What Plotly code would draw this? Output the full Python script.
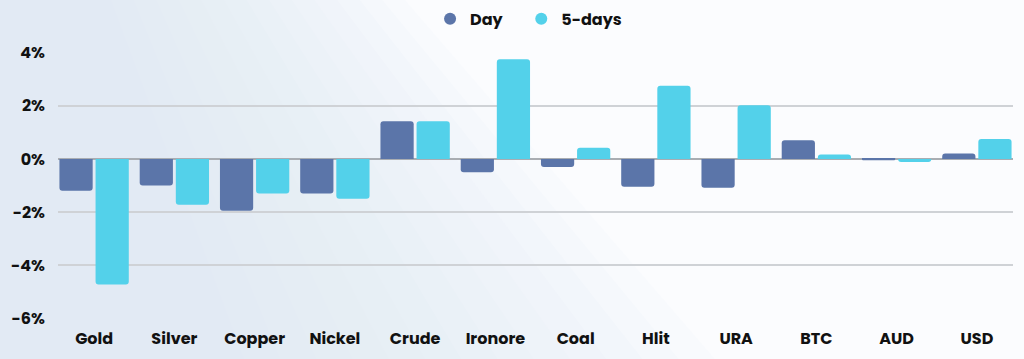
import plotly.graph_objects as go

categories = ["Gold", "Silver", "Copper", "Nickel", "Crude", "Ironore", "Coal", "Hlit", "URA", "BTC", "AUD", "USD"]
day_values = [-1.2, -1.0, -1.95, -1.3, 1.42, -0.5, -0.3, -1.05, -1.08, 0.7, -0.05, 0.2]
five_day_values = [-4.72, -1.72, -1.3, -1.5, 1.42, 3.75, 0.42, 2.75, 2.02, 0.17, -0.12, 0.75]
tick_vals = [-6, -4, -2, 0, 2, 4]
tick_text = ["-6%", "-4%", "-2%", "0%", "2%", "4%"]

DAY_COLOR = "#5b75a9"
FIVE_COLOR = "#53d1ea"
FONT = "Poppins, Inter, 'DejaVu Sans', sans-serif"

fig = go.Figure()
fig.add_trace(go.Bar(x=categories, y=day_values, name="Day", marker_color=DAY_COLOR,
                     showlegend=False, marker_line_width=0))
fig.add_trace(go.Bar(x=categories, y=five_day_values, name="5-days", marker_color=FIVE_COLOR,
                     showlegend=False, marker_line_width=0))
# legend entries with circular markers
fig.add_trace(go.Scatter(x=[None], y=[None], mode="markers", name="Day    ",
                         marker=dict(color=DAY_COLOR, size=16, symbol="circle")))
fig.add_trace(go.Scatter(x=[None], y=[None], mode="markers", name="5-days",
                         marker=dict(color=FIVE_COLOR, size=16, symbol="circle")))

# subtle background gradient approximation (diagonal, light blue-grey at lower left)
shapes = []
n = 14
for i in range(n):
    xb = 0.2 + 0.5 * i / (n - 1)     # bottom x of band edge
    xt = 0.05 + 0.3 * i / (n - 1)    # top x of band edge
    shapes.append(dict(type="path", xref="paper", yref="paper",
                       path=f"M -0.1 -0.2 L {xb} -0.2 L {xt} 1.25 L -0.1 1.25 Z",
                       fillcolor="#dfe7f0", opacity=0.09, line_width=0, layer="below"))

fig.update_layout(
    width=1024, height=359,
    margin=dict(l=58, r=11, t=51.5, b=39.5, autoexpand=False),
    paper_bgcolor="#fbfcfe",
    plot_bgcolor="rgba(0,0,0,0)",
    barmode="group",
    bargap=0.1,
    bargroupgap=0.08,
    barcornerradius=3,
    font=dict(family=FONT, size=15, color="#111111"),
    legend=dict(orientation="h", xref="container", x=0.42, xanchor="left",
                y=0.995, yref="container", yanchor="top",
                font=dict(family=FONT, size=16, color="#111111", weight="bold"),
                itemsizing="constant", bgcolor="rgba(0,0,0,0)", itemwidth=30,
                tracegroupgap=0),
    shapes=shapes,
    xaxis=dict(range=[-0.45, 11.45], showgrid=False, zeroline=False, showline=False,
               ticks="", ticklabelstandoff=8,
               tickfont=dict(family=FONT, size=16, color="#111111", weight="bold")),
    yaxis=dict(range=[-6.02, 4.02], tickvals=tick_vals, ticktext=tick_text,
               showgrid=True, gridcolor="#cfd2d6", gridwidth=1.5,
               zeroline=True, zerolinecolor="#a9adb2", zerolinewidth=1.5,
               showline=False, ticks="", ticklabelstandoff=12,
               tickfont=dict(family=FONT, size=16, color="#111111", weight="bold")),
)

fig.write_html("out.html",
               config={"displayModeBar": False},
               post_script="document.body.style.margin='0';document.body.style.background='#fbfcfe';window.dispatchEvent(new Event('resize'));")
